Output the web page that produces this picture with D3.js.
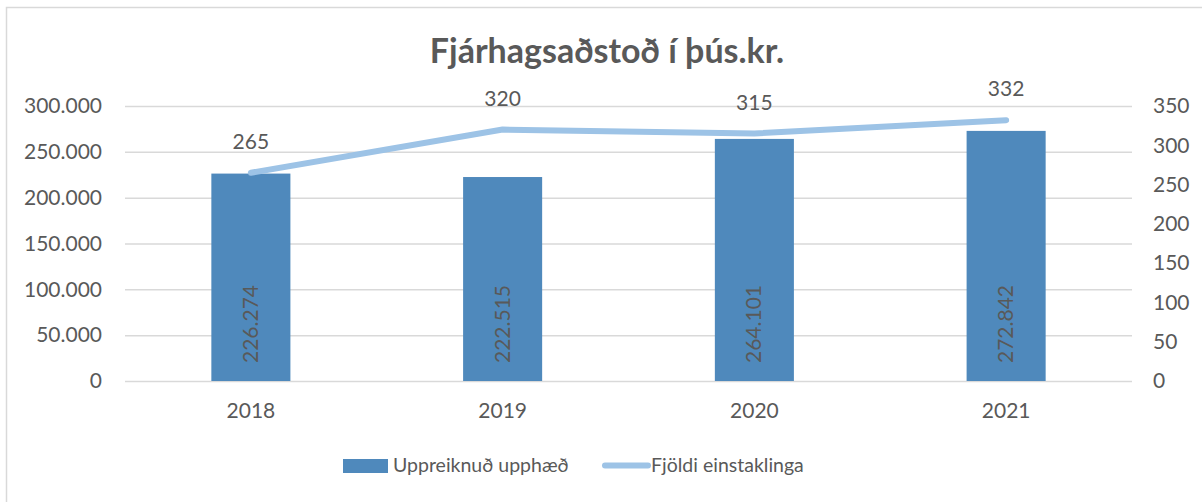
<!DOCTYPE html>
<html>
<head>
<meta charset="utf-8">
<script src="https://cdn.jsdelivr.net/npm/d3@7"></script>
<style>
    body { margin: 0; background: #fff; }
    text { font-family: Lato, "Open Sans", sans-serif; fill: #595959; }
</style>
</head>
<body>
<div id="my_dataviz"></div>
<script>
// data
const years = ["2018", "2019", "2020", "2021"]
const amounts = [226274, 222515, 264101, 272842]
const people = [265, 320, 315, 332]
const leftTicks = [0, 50000, 100000, 150000, 200000, 250000, 300000]
const rightTicks = [0, 50, 100, 150, 200, 250, 300, 350]

const W = 1202, H = 502
const margin = { top: 106, right: 70, bottom: 121, left: 125 },
    width = 1132 - margin.left,
    height = 381 - margin.top

const barColor = "#4f89bc"
const lineColor = "#9dc3e6"

const fmt = d3.formatLocale({ decimal: ",", thousands: ".", grouping: [3], currency: ["", ""] }).format(",d")

const root = d3.select("#my_dataviz").append("svg")
    .attr("width", W)
    .attr("height", H)

// outer frame (only top and left show in the picture)
root.append("path")
    .attr("d", "M6.5," + H + "V7.5H" + W)
    .attr("fill", "none")
    .attr("stroke", "#d9d9d9")
    .attr("stroke-width", 1.5)

// title
root.append("text")
    .attr("x", 607)
    .attr("y", 63)
    .attr("text-anchor", "middle")
    .style("font-size", "34px")
    .style("font-weight", "bold")
    .text("Fjárhagsaðstoð í þús.kr.")

const svg = root.append("g")
    .attr("transform", "translate(" + margin.left + "," + margin.top + ")")

const x = d3.scaleBand()
    .domain(years)
    .range([0, width])
    .paddingInner(0.686)
    .paddingOuter(0.343)

const y = d3.scaleLinear().domain([0, 300000]).range([height, 0])
const y2 = d3.scaleLinear().domain([0, 350]).range([height, 0])

// grid lines + left axis
const gl = svg.append("g")
    .call(d3.axisLeft(y).tickValues(leftTicks).tickSize(-width).tickPadding(23).tickFormat(fmt))
gl.select(".domain").remove()
gl.selectAll("line").attr("stroke", "#d9d9d9").attr("stroke-width", 1.5)
gl.selectAll("text").style("font-size", "21px").attr("fill", "#595959")

// right axis
const gr = svg.append("g")
    .attr("transform", "translate(" + width + ",0)")
    .call(d3.axisRight(y2).tickValues(rightTicks).tickSize(0).tickPadding(21))
gr.select(".domain").remove()
gr.selectAll("text").style("font-size", "21px").attr("fill", "#595959")

// category axis
const gx = svg.append("g")
    .attr("transform", "translate(0," + height + ")")
    .call(d3.axisBottom(x).tickSize(0).tickPadding(22))
gx.select(".domain").remove()
gx.selectAll("text").style("font-size", "21px").attr("fill", "#595959")

// bars
svg.append("g")
    .selectAll("rect")
    .data(years)
    .enter()
    .append("rect")
    .attr("x", d => x(d))
    .attr("y", (d, i) => y(amounts[i]))
    .attr("width", x.bandwidth())
    .attr("height", (d, i) => height - y(amounts[i]))
    .attr("fill", barColor)

// bar labels, rotated, at the base
svg.append("g")
    .selectAll("text")
    .data(years)
    .enter()
    .append("text")
    .attr("transform", d => "translate(" + (x(d) + x.bandwidth() / 2 + 7) + "," + (height - 18) + ") rotate(-90)")
    .style("font-size", "21px")
    .text((d, i) => fmt(amounts[i]))

// line
const cx = d => x(d) + x.bandwidth() / 2
svg.append("path")
    .datum(years)
    .attr("fill", "none")
    .attr("stroke", lineColor)
    .attr("stroke-width", 6)
    .attr("stroke-linecap", "round")
    .attr("stroke-linejoin", "round")
    .attr("d", d3.line().x(cx).y((d, i) => y2(people[i])))

svg.append("g")
    .selectAll("text")
    .data(years)
    .enter()
    .append("text")
    .attr("x", cx)
    .attr("y", (d, i) => y2(people[i]) - 24)
    .attr("text-anchor", "middle")
    .style("font-size", "21px")
    .text((d, i) => people[i])

// legend
const lg = root.append("g")
lg.append("rect")
    .attr("x", 343).attr("y", 459)
    .attr("width", 45).attr("height", 14)
    .attr("fill", barColor)
lg.append("text")
    .attr("x", 393).attr("y", 472)
    .style("font-size", "19.5px")
    .text("Uppreiknuð upphæð")
lg.append("line")
    .attr("x1", 605).attr("x2", 648)
    .attr("y1", 465.5).attr("y2", 465.5)
    .attr("stroke", lineColor)
    .attr("stroke-width", 6)
    .attr("stroke-linecap", "round")
lg.append("text")
    .attr("x", 651).attr("y", 472)
    .style("font-size", "19.5px")
    .text("Fjöldi einstaklinga")
</script>
</body>
</html>
